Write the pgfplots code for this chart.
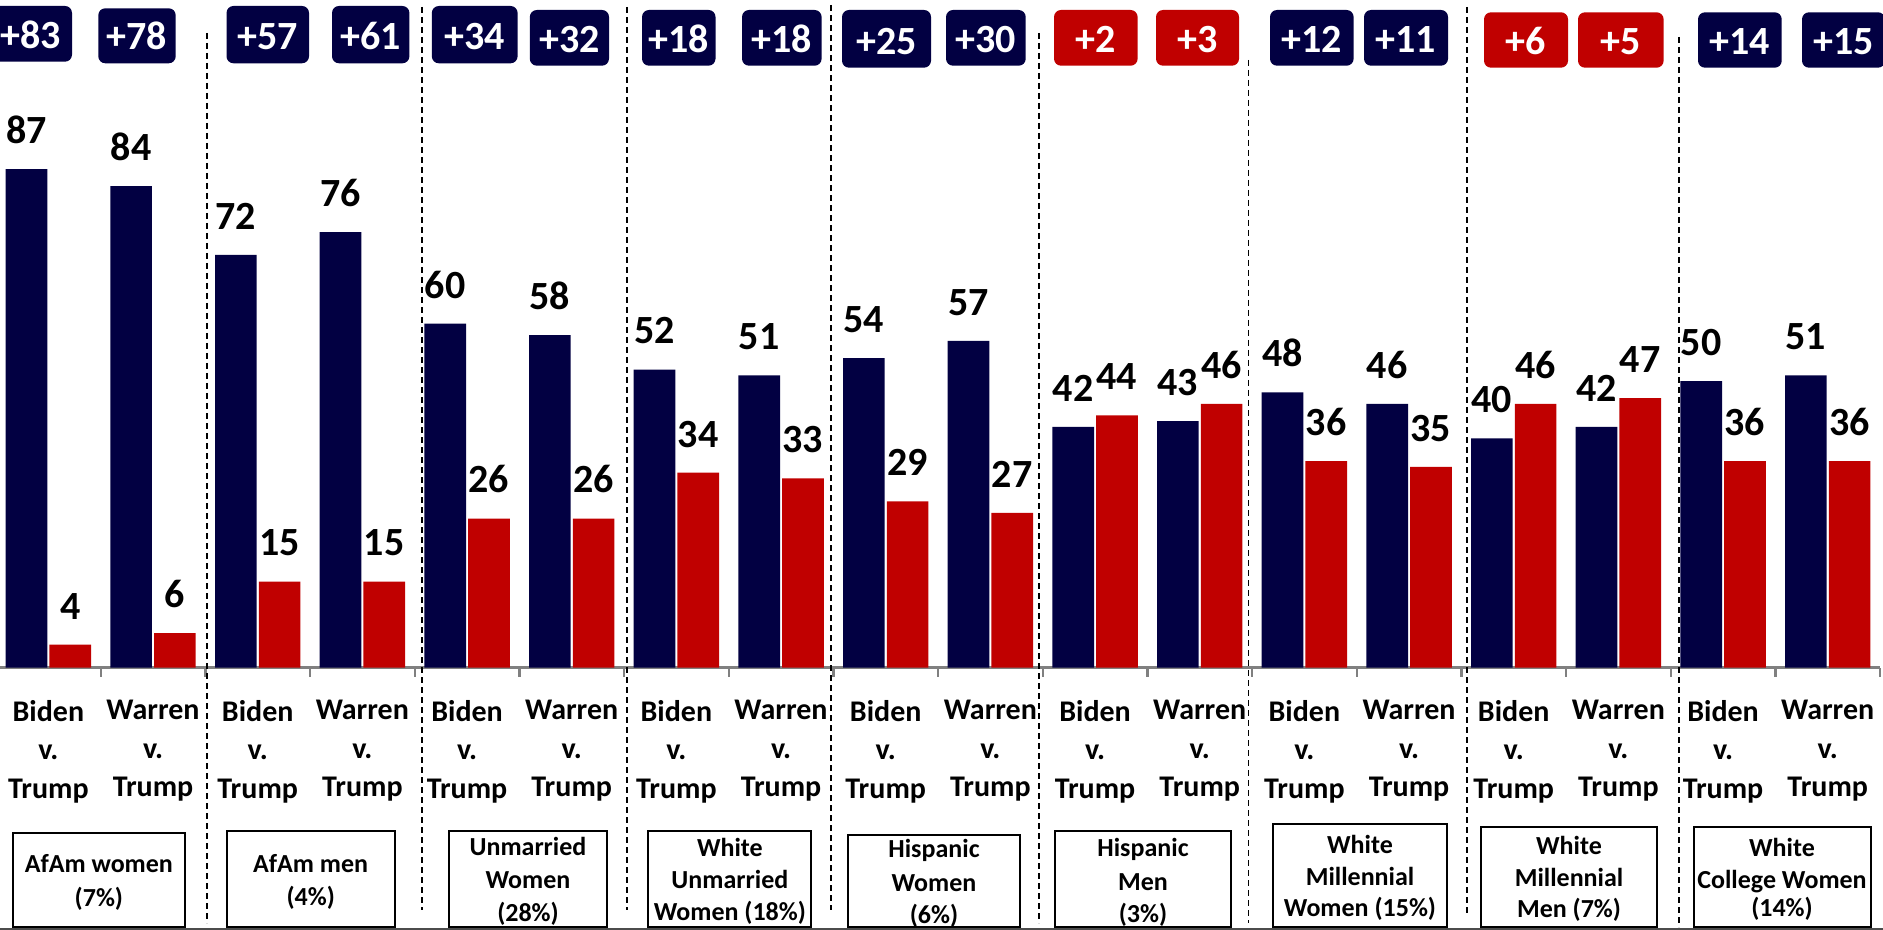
\documentclass[border=0pt]{standalone}
\usepackage{fontspec}
\setmainfont{Carlito}
\usepackage{pgfplots}
\usepackage{pgfplotstable}
\pgfplotsset{compat=1.18}
\definecolor{navy}{RGB}{2,0,66}
\definecolor{dred}{RGB}{192,0,0}
\definecolor{axgray}{RGB}{128,128,128}

\pgfplotstableread{
x dem rep
0 87 4
1 84 6
2 72 15
3 76 15
4 60 26
5 58 26
6 52 34
7 51 33
8 54 29
9 57 27
10 42 44
11 43 46
12 48 36
13 46 35
14 40 46
15 42 47
16 50 36
17 51 36
}\datatable

\begin{document}
\begin{tikzpicture}[x=0.5pt,y=-0.5pt]
\begin{axis}[
  at={(-1.98pt,-333.75pt)}, anchor=south west,
  scale only axis, width=942pt, height=333.75pt,
  xmin=-0.5, xmax=17.5, ymin=0, ymax=116.5,
  clip=false,
  axis x line*=bottom, axis y line=none,
  x axis line style={-, axgray, line width=1.15pt},
  /pgf/number format/assume math mode=true,
  xtick={0,...,17},
  major tick length=0pt,
  minor xtick={-0.5,0.5,...,17.5},
  minor tick length=4.7pt,
  tick align=outside,
  minor tick style={axgray, line width=1.15pt},
  ytick=\empty,
  xticklabels={{Biden\\v.\\Trump},{Warren\\v.\\Trump},{Biden\\v.\\Trump},{Warren\\v.\\Trump},{Biden\\v.\\Trump},{Warren\\v.\\Trump},{Biden\\v.\\Trump},{Warren\\v.\\Trump},{Biden\\v.\\Trump},{Warren\\v.\\Trump},{Biden\\v.\\Trump},{Warren\\v.\\Trump},{Biden\\v.\\Trump},{Warren\\v.\\Trump},{Biden\\v.\\Trump},{Warren\\v.\\Trump},{Biden\\v.\\Trump},{Warren\\v.\\Trump}},
  x tick label style={align=center, font=\fontsize{15pt}{19.25pt}\selectfont\bfseries, anchor=north, inner sep=0pt, yshift=-16.25pt},
  every node near coord/.append style={font=\fontsize{20pt}{24pt}\selectfont\bfseries, text=black, anchor=south, inner sep=0pt, yshift=12.5pt},
]
\addplot[ybar, bar width=0.398, bar shift=0, fill=navy, draw=none, nodes near coords] table[x expr=\thisrow{x}-0.209, y=dem]{\datatable};
\addplot[ybar, bar width=0.398, bar shift=0, fill=dred, draw=none, nodes near coords] table[x expr=\thisrow{x}+0.209, y=rep]{\datatable};
\end{axis}

% group separators
\foreach \xx/\ya/\yb in {207/33/923, 422.4/7/910, 626.7/7/910, 830.6/5/910, 1039/33/923, 1248.5/60/923, 1466.8/7/915, 1678.8/37/927}{
  \draw[black, line width=0.95pt, dash pattern=on 3pt off 2pt] (\xx,\ya) -- (\xx,\yb);
}

% margin boxes
\foreach \a/\b/\c/\d/\col/\t in {-10/72/6/61.7/navy/+83, 98.3/175.7/8.3/63.3/navy/+78, 226.5/309/6/63.3/navy/+57, 332/409.4/6/63.3/navy/+61, 431.8/517.6/6/63.3/navy/+34, 529.8/609/10/65.7/navy/+32, 642/715.5/10/65.7/navy/+18, 742/821.6/10/65.7/navy/+18, 842/931/10/67.7/navy/+25, 946/1025.7/10/65.7/navy/+30, 1054/1137.6/10/65.7/dred/+2, 1156/1239/10/65.7/dred/+3, 1270/1353.6/10/65.7/navy/+12, 1364/1448/10/65.7/navy/+11, 1484/1568/12.3/67.7/dred/+6, 1578/1663.6/12.3/67.7/dred/+5, 1698/1781.7/12.3/67.7/navy/+14, 1802/1885/12.3/67.7/navy/+15}{
  \fill[\col, rounded corners=3.5pt] (\a,\c) rectangle (\b,\d);
  \node[anchor=base, text=white, inner sep=0pt, font=\fontsize{20pt}{24pt}\selectfont\bfseries] at ({(\a+\b)/2},{\d-13.5}) {\t};
}

% group boxes
\foreach \a/\b/\c/\d in {12.7/185/832.7/926.7, 226.5/395/830.7/926.7, 449/607/830.7/926.7, 648.4/811.3/830.7/926.7, 848.3/1019.6/834.7/926.7, 1054.5/1231.3/830.7/926.7, 1272.8/1447/824.3/926.7, 1480.7/1657/826.7/926.7, 1694/1870.7/826.7/926.7}{
  \draw[black, line width=1pt, fill=white] (\a,\c) rectangle (\b,\d);
}
\foreach \cx/\yy/\t in {98.9/872.7/AfAm women, 98.9/906.7/(7\%), 310.7/872/AfAm men, 310.7/905/(4\%), 528/855/Unmarried, 528/888.5/Women, 528/921.5/(28\%), 729.9/856.7/White, 729.9/888.3/Unmarried, 729.9/920/Women (18\%), 934/857/Hispanic, 934/891/Women, 934/923/(6\%), 1143/856.7/Hispanic, 1143/890/Men, 1143/922/(3\%), 1360/853/White, 1360/885/Millennial, 1360/916.7/Women (15\%), 1569/854/White, 1569/886/Millennial, 1569/917.7/Men (7\%), 1782/856.7/White, 1782/888/College Women, 1782/916.7/(14\%)}{
  \node[anchor=base, inner sep=0pt, font=\fontsize{13pt}{16pt}\selectfont\bfseries] at (\cx,\yy) {\t};
}

\draw[line width=1pt, black!70] (0,928.8) -- (1883,928.8);

\pgfresetboundingbox
\useasboundingbox (0,0) rectangle (1883,930);
\end{tikzpicture}
\end{document}
